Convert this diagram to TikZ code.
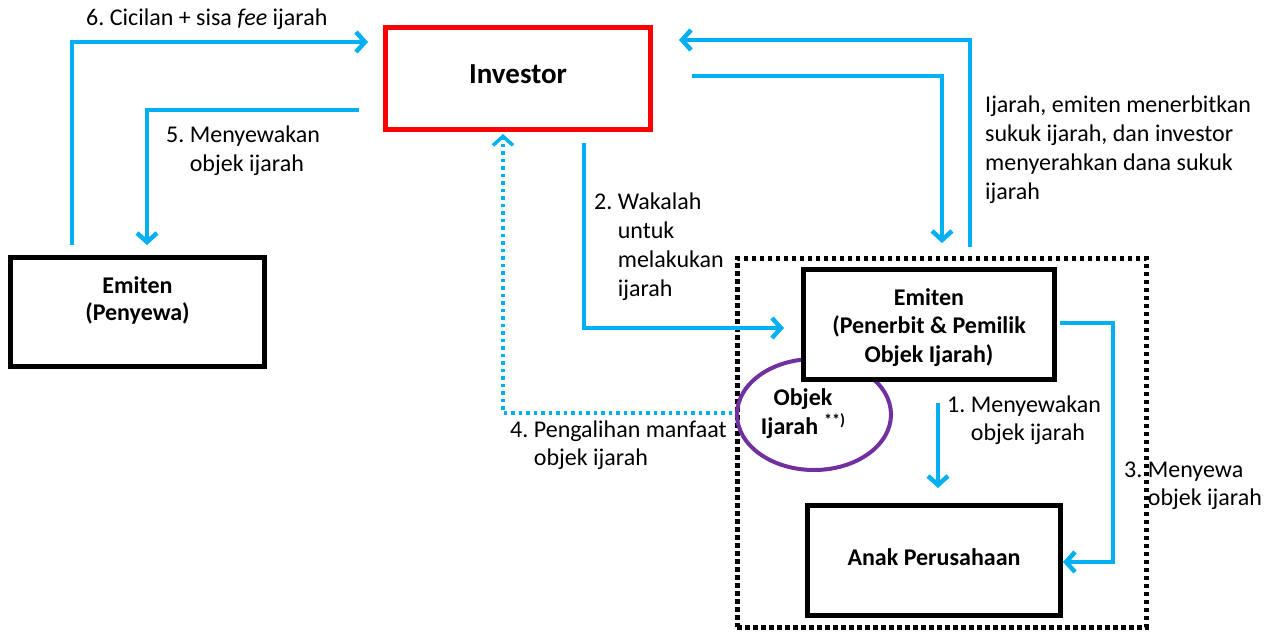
\documentclass[tikz,border=0pt]{standalone}
\usepackage{fontspec}
\setmainfont{Carlito}
\usetikzlibrary{arrows.meta,shapes.geometric}
\definecolor{flow}{HTML}{00B0F0}
\definecolor{ring}{HTML}{7030A0}
\definecolor{invred}{HTML}{FF0000}
% struts that fix the height of a first line and the depth of a last line
\newcommand{\tallrule}[1]{\rule{0pt}{#1pt}}
\newcommand{\deeprule}[1]{\rule[-#1pt]{0pt}{#1pt}}
\frenchspacing
\begin{document}
\begin{tikzpicture}[x=1pt,y=-1pt,
  party/.style={draw=black, line width=5pt, fill=white, inner sep=0pt, align=center,
                font=\fontsize{24}{28.5}\selectfont\bfseries},
  lbl/.style={inner sep=0pt, anchor=north west, align=left,
              font=\fontsize{24}{29}\selectfont},
  flowline/.style={draw=flow, line width=4.5pt, line join=miter},
  tip/.style={-{Straight Barb[length=9pt,width=20pt]}},
  dotline/.style={draw=flow, line width=3.5pt, dash pattern=on 3.5pt off 4pt},
]
% canvas
\fill[white] (0,0) rectangle (1282,632);
\useasboundingbox (0,0) rectangle (1282,632);

% dotted frame around the issuer and its subsidiary
\node[draw=black, line width=5pt, dash pattern=on 4.5pt off 3.5pt, inner sep=0pt,
      minimum width=409pt, minimum height=369pt] (grp) at (941.5,442.5) {};

% parties
\node[party, draw=invred, line width=4.5pt, minimum width=265pt, minimum height=102pt,
      font=\fontsize{29}{34}\selectfont\bfseries] (inv) at (518,78.5)
      {\tallrule{24}Investor\deeprule{15}};
\node[party, minimum width=254pt, minimum height=109pt,
      font=\fontsize{24}{27}\selectfont\bfseries] (sew) at (137.5,312)
      {\tallrule{20}Emiten\\(Penyewa)\deeprule{31}};
\node[draw=ring, line width=4pt, ellipse, inner sep=0pt,
      minimum width=154pt, minimum height=111pt] (obj) at (814,414.5) {};
\node[party, minimum width=251pt, minimum height=110pt] (emi) at (929,324.5)
      {\tallrule{24}Emiten\\(Penerbit \& Pemilik\\Objek Ijarah)\deeprule{6}};
\node[party, minimum width=253pt, minimum height=110pt,
      font=\fontsize{24}{29}\selectfont\bfseries] (anak) at (934,560.5)
      {\tallrule{20}Anak Perusahaan\deeprule{11}};
\node[inner sep=0pt, anchor=north, align=center, font=\fontsize{24}{29}\selectfont\bfseries]
      (objtxt) at (803,385)
      {\tallrule{20}Objek\\Ijarah\hspace{6pt}\raisebox{9pt}{\fontsize{16}{16}\selectfont **)}};

% connector end points
\coordinate (a6s) at (72,245);   \coordinate (a6e) at (368,42);
\coordinate (a5s) at (359,110);  \coordinate (a5e) at (147,245);
\coordinate (ats) at (970,247);  \coordinate (ate) at (679,40);
\coordinate (ars) at (692,76);   \coordinate (are) at (942,243);
\coordinate (a2s) at (584,143);  \coordinate (a2e) at (784,328);
\coordinate (a4s) at (732,413);  \coordinate (a4e) at (503,134);
\coordinate (a1s) at (938,403);  \coordinate (a1e) at (938,488);
\coordinate (a3s) at (1060,323); \coordinate (a3c) at (1113,562);
\coordinate (a3e) at (1063,562);

% flows
\draw[flowline, tip] (a6s) |- (a6e);
\draw[flowline, tip] (a5s) -| (a5e);
\draw[flowline, tip] (ats) |- (ate);
\draw[flowline, tip] (ars) -| (are);
\draw[flowline, tip] (a2s) |- (a2e);
\draw[dotline, tip] (a4s) -| (a4e);
\draw[flowline, tip] (a1s) -- (a1e);
\draw[flowline, tip] (a3s) -| (a3c) -- (a3e);

% flow labels
\node[lbl] (l6) at (86,5) {\tallrule{20}6. Cicilan + sisa \textit{fee} ijarah};
\node[lbl] (l5) at (166,122) {\tallrule{20}5. Menyewakan\\\phantom{5. }objek ijarah};
\node[lbl] (lr) at (985,92) {\tallrule{20}Ijarah, emiten menerbitkan\\sukuk ijarah, dan investor\\menyerahkan dana sukuk\\ijarah};
\node[lbl] (l2) at (594,189) {\tallrule{20}2. Wakalah\\\phantom{2. }untuk\\\phantom{2. }melakukan\\\phantom{2. }ijarah};
\node[lbl, font=\fontsize{24}{28}\selectfont] (l4) at (510,417) {\tallrule{20}4. Pengalihan manfaat\\\phantom{4. }objek ijarah};
\node[lbl, font=\fontsize{24}{28}\selectfont] (l1) at (947,392) {\tallrule{20}1. Menyewakan\\\phantom{1. }objek ijarah};
\node[lbl, font=\fontsize{24}{28}\selectfont] (l3) at (1124,457) {\tallrule{20}3. Menyewa\\\phantom{3. }objek ijarah};
\end{tikzpicture}
\end{document}
